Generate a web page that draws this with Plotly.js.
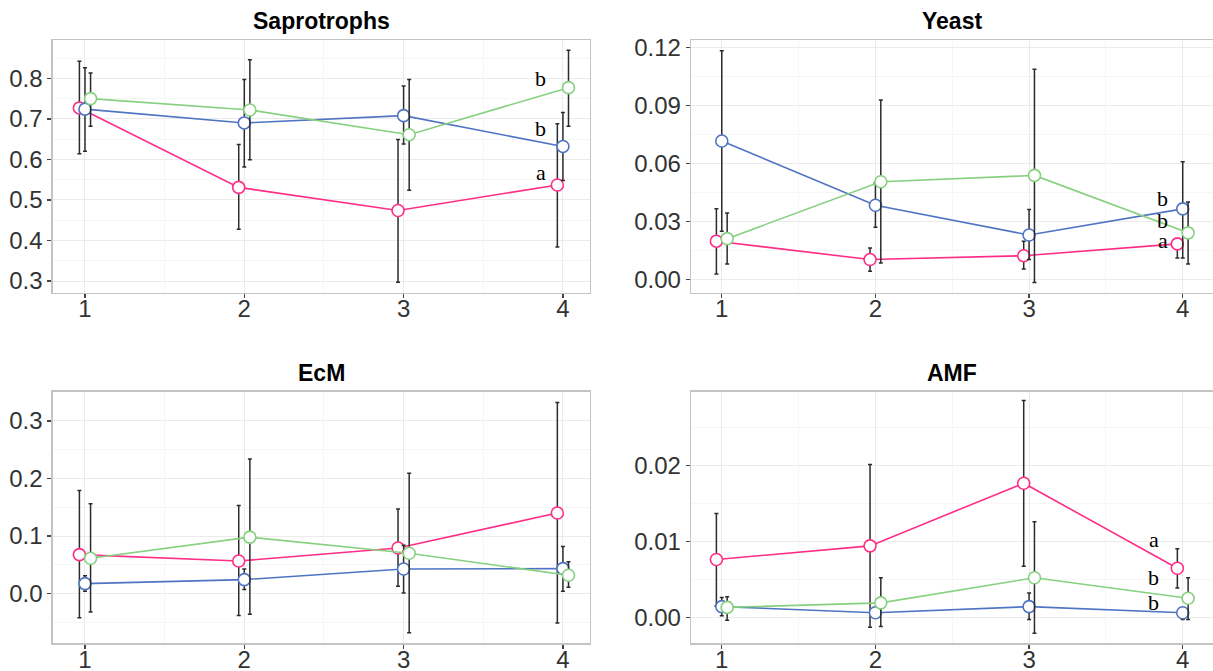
<!DOCTYPE html>
<html>
<head>
<meta charset="utf-8">
<script src="https://cdn.plot.ly/plotly-3.0.1.min.js"></script>
<style>html,body{margin:0;padding:0;background:#fff;}#chart{width:1213px;height:671px;}</style>
</head>
<body>
<div id="chart"></div>
<script>
// categories
const sites = [1, 2, 3, 4];

// Saprotrophs
const sapPink = [0.727, 0.531, 0.474, 0.537];
const sapPinkHi = [0.842, 0.637, 0.649, 0.688];
const sapPinkLo = [0.614, 0.428, 0.297, 0.384];
const sapBlue = [0.724, 0.690, 0.708, 0.632];
const sapBlueHi = [0.826, 0.797, 0.781, 0.716];
const sapBlueLo = [0.620, 0.581, 0.638, 0.548];
const sapGreen = [0.750, 0.722, 0.661, 0.777];
const sapGreenHi = [0.813, 0.846, 0.797, 0.869];
const sapGreenLo = [0.682, 0.599, 0.524, 0.682];

// Yeast
const yeaPink = [0.0199, 0.0104, 0.0124, 0.0185];
const yeaPinkHi = [0.0366, 0.0164, 0.0199, 0.0211];
const yeaPinkLo = [0.0029, 0.0043, 0.0055, 0.0112];
const yeaBlue = [0.0717, 0.0385, 0.0231, 0.0366];
const yeaBlueHi = [0.1183, 0.0500, 0.0363, 0.0610];
const yeaBlueLo = [0.0250, 0.0271, 0.0104, 0.0112];
const yeaGreen = [0.0212, 0.0506, 0.0539, 0.0242];
const yeaGreenHi = [0.0345, 0.0929, 0.1088, 0.0402];
const yeaGreenLo = [0.0081, 0.0086, -0.0014, 0.0081];

// EcM
const ecmPink = [0.0676, 0.0566, 0.0792, 0.140];
const ecmPinkHi = [0.179, 0.153, 0.147, 0.332];
const ecmPinkLo = [-0.042, -0.038, 0.0127, -0.051];
const ecmBlue = [0.0173, 0.0243, 0.0428, 0.0434];
const ecmBlueHi = [0.031, 0.0428, 0.084, 0.082];
const ecmBlueLo = [0.004, 0.0069, 0.001, 0.004];
const ecmGreen = [0.0613, 0.098, 0.070, 0.0318];
const ecmGreenHi = [0.156, 0.234, 0.209, 0.0555];
const ecmGreenLo = [-0.032, -0.036, -0.068, 0.011];

// AMF
const amfPink = [0.0076, 0.0094, 0.01765, 0.00646];
const amfPinkHi = [0.01367, 0.0201, 0.02854, 0.00903];
const amfPinkLo = [0.0015, -0.0013, 0.00673, 0.00385];
const amfBlue = [0.0014, 0.0006, 0.0014, 0.0006];
const amfBlueHi = [0.0026, 0.0009, 0.0032, 0.0008];
const amfBlueLo = [0.0002, 0.0003, -0.0003, -0.0003];
const amfGreen = [0.0013, 0.0019, 0.0052, 0.0025];
const amfGreenHi = [0.0027, 0.0052, 0.01257, 0.0052];
const amfGreenLo = [-0.0004, -0.0012, -0.0021, -0.0003];

// panel titles and letters
const panelTitles = ['Saprotrophs', 'Yeast', 'EcM', 'AMF'];
const sapLetters = ['b', 'b', 'a'];
const yeaLetters = ['b', 'b', 'a'];
const amfLetters = ['a', 'b', 'b'];

const colors = {pink: '#FF2D87', blue: '#4F74C3', green: '#86D07F'};
const dodge = {pink: -0.035, blue: 0, green: 0.035};

function tr(xa, ya, key, mean, hi, lo) {
  return {
    type: 'scatter', mode: 'lines+markers',
    x: sites.map(v => v + dodge[key]), y: mean,
    xaxis: xa, yaxis: ya,
    line: {color: colors[key], width: 1.6},
    marker: {symbol: 'circle', size: 12, color: '#ffffff', line: {color: colors[key], width: 1.6}},
    error_y: {type: 'data', symmetric: false,
      array: hi.map((h, i) => h - mean[i]),
      arrayminus: lo.map((l, i) => mean[i] - l),
      color: '#2b2b2b', thickness: 1.5, width: 2},
    showlegend: false, hoverinfo: 'skip'
  };
}

const data = [
  tr('x', 'y', 'pink', sapPink, sapPinkHi, sapPinkLo),
  tr('x', 'y', 'blue', sapBlue, sapBlueHi, sapBlueLo),
  tr('x', 'y', 'green', sapGreen, sapGreenHi, sapGreenLo),
  tr('x2', 'y2', 'pink', yeaPink, yeaPinkHi, yeaPinkLo),
  tr('x2', 'y2', 'blue', yeaBlue, yeaBlueHi, yeaBlueLo),
  tr('x2', 'y2', 'green', yeaGreen, yeaGreenHi, yeaGreenLo),
  tr('x3', 'y3', 'pink', ecmPink, ecmPinkHi, ecmPinkLo),
  tr('x3', 'y3', 'blue', ecmBlue, ecmBlueHi, ecmBlueLo),
  tr('x3', 'y3', 'green', ecmGreen, ecmGreenHi, ecmGreenLo),
  tr('x4', 'y4', 'pink', amfPink, amfPinkHi, amfPinkLo),
  tr('x4', 'y4', 'blue', amfBlue, amfBlueHi, amfBlueLo),
  tr('x4', 'y4', 'green', amfGreen, amfGreenHi, amfGreenLo)
];

const tickFont = {family: 'Liberation Sans, Arial, sans-serif', size: 24, color: '#333333'};
function xax(domain, anchor, range) {
  return {domain: domain, anchor: anchor, range: range, tick0: 1, dtick: 1,
    showgrid: true, gridcolor: '#ebebeb', gridwidth: 1, zeroline: false,
    minor: {dtick: 0.5, tick0: 0.5, showgrid: true, gridcolor: '#f6f6f6', gridwidth: 1, ticks: ''},
    showline: true, mirror: true, linecolor: '#c4c4c4', linewidth: 1.3,
    ticks: 'outside', ticklen: 4, tickwidth: 1.3, tickcolor: '#444',
    ticklabelstandoff: -10,
    tickfont: tickFont, fixedrange: true};
}
function yax(domain, anchor, range, dtick, fmt) {
  return {domain: domain, anchor: anchor, range: range, tick0: 0, dtick: dtick, tickformat: fmt,
    showgrid: true, gridcolor: '#ebebeb', gridwidth: 1, zeroline: false,
    minor: {dtick: dtick / 2, tick0: 0, showgrid: true, gridcolor: '#f6f6f6', gridwidth: 1, ticks: ''},
    showline: true, mirror: true, linecolor: '#c4c4c4', linewidth: 1.3,
    ticks: 'outside', ticklen: 4, tickwidth: 1.3, tickcolor: '#444',
    tickfont: tickFont, fixedrange: true};
}

const topRow = [0.5633, 0.9404];
const botRow = [0.0410, 0.4163];
const leftCol = [0.0434, 0.4864];
const rightCol = [0.5697, 1.0];

const letterFont = {family: 'Liberation Serif, Times New Roman, serif', size: 22, color: '#000'};
function letter(xref, yref, txt, xv, yv) {
  return {xref: xref, yref: yref, x: xv, y: yv, text: txt, showarrow: false, font: letterFont,
    xanchor: 'center', yanchor: 'middle'};
}
const titleFont = {family: 'Liberation Sans, Arial, sans-serif', size: 23, color: '#000'};
function ttl(txt, xc, yc) {
  return {xref: 'paper', yref: 'paper', x: xc, y: yc, text: '<b>' + txt + '</b>', showarrow: false,
    font: titleFont, xanchor: 'center', yanchor: 'middle'};
}

const annotations = [
  ttl(panelTitles[0], (leftCol[0] + leftCol[1]) / 2, 1 - 21 / 671),
  ttl(panelTitles[1], (rightCol[0] + rightCol[1]) / 2, 1 - 21 / 671),
  ttl(panelTitles[2], (leftCol[0] + leftCol[1]) / 2, 1 - 373 / 671),
  ttl(panelTitles[3], (rightCol[0] + rightCol[1]) / 2, 1 - 373 / 671),
  letter('x', 'y', sapLetters[0], 3.86, 0.800),
  letter('x', 'y', sapLetters[1], 3.86, 0.676),
  letter('x', 'y', sapLetters[2], 3.86, 0.567),
  letter('x2', 'y2', yeaLetters[0], 3.87, 0.0420),
  letter('x2', 'y2', yeaLetters[1], 3.87, 0.0305),
  letter('x2', 'y2', yeaLetters[2], 3.87, 0.0200),
  letter('x4', 'y4', amfLetters[0], 3.81, 0.0103),
  letter('x4', 'y4', amfLetters[1], 3.81, 0.0052),
  letter('x4', 'y4', amfLetters[2], 3.81, 0.0019)
];

const layout = {
  width: 1213, height: 671,
  margin: {l: 0, r: 0, t: 0, b: 0},
  paper_bgcolor: '#ffffff', plot_bgcolor: '#ffffff',
  showlegend: false,
  xaxis: xax(leftCol, 'y', [0.797, 4.17]),
  yaxis: yax(topRow, 'x', [0.2704, 0.8946], 0.1, '.1f'),
  xaxis2: xax(rightCol, 'y2', [0.80, 4.197]),
  yaxis2: yax(topRow, 'x2', [-0.0069, 0.1239], 0.03, '.2f'),
  xaxis3: xax(leftCol, 'y3', [0.797, 4.17]),
  yaxis3: yax(botRow, 'x3', [-0.0867, 0.3508], 0.1, '.1f'),
  xaxis4: xax(rightCol, 'y4', [0.80, 4.197]),
  yaxis4: yax(botRow, 'x4', [-0.00345, 0.0297], 0.01, '.2f'),
  annotations: annotations
};

Plotly.newPlot('chart', data, layout, {staticPlot: true, displayModeBar: false});
</script>
</body>
</html>
